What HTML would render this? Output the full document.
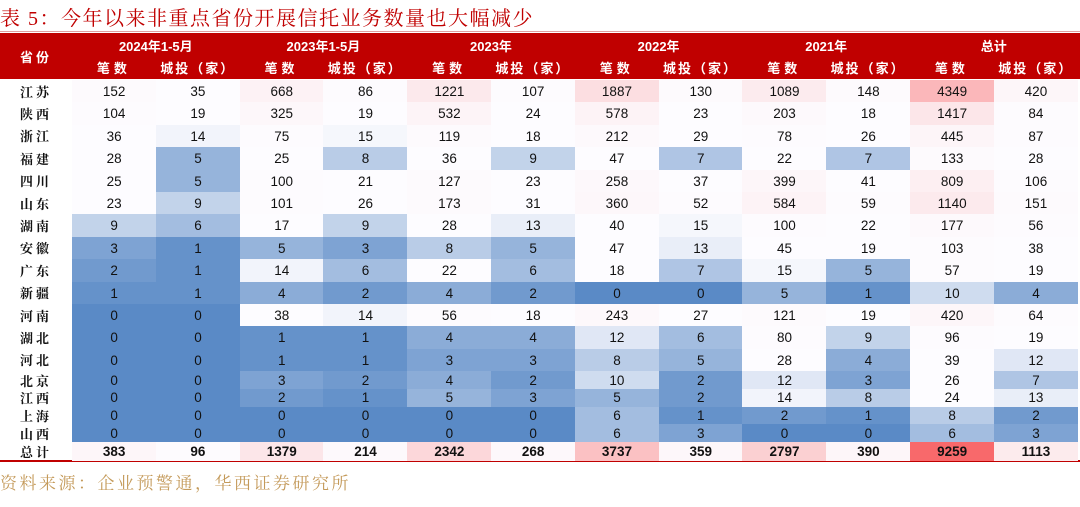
<!DOCTYPE html>
<html><head><meta charset="utf-8">
<style>
body{margin:0;width:1080px;height:507px;background:#fff;position:relative;overflow:hidden;font-family:"Liberation Sans","Noto Sans CJK SC",sans-serif}
.a{position:absolute;display:flex;align-items:center;justify-content:center;box-sizing:border-box}
.t{position:absolute;left:0;top:2px;font-family:"Liberation Serif","Noto Serif CJK SC",serif;font-size:20px;color:#c00000;letter-spacing:1.5px;white-space:nowrap}
.h{color:#fff;font-weight:bold;font-size:13px;font-family:"Liberation Sans","Noto Sans CJK SC",sans-serif}
.p{font-family:"Liberation Serif","Noto Serif CJK SC",serif;font-weight:bold;font-size:13px;color:#111;letter-spacing:3px}
.n{font-size:13.5px;color:#111}
.src{position:absolute;left:0;top:469px;font-family:"Liberation Serif","Noto Serif CJK SC",serif;font-size:17px;color:#c49a5a;letter-spacing:2.5px;white-space:nowrap}
</style></head><body>
<div class="t">表 5：今年以来非重点省份开展信托业务数量也大幅减少</div>
<div style="position:absolute;left:0;top:31px;width:1080px;height:1px;background:#e0a0a0"></div>
<div style="position:absolute;left:0;top:33px;width:1080px;height:46px;background:#c00000"></div>
<div style="position:absolute;left:0;top:460px;width:1080px;height:2px;background:#c00000"></div>
<div id="g"></div>
<div class="src">资料来源：企业预警通，华西证券研究所</div>
<script>
var rows=[
["江苏",152,35,668,86,1221,107,1887,130,1089,148,4349,420],
["陕西",104,19,325,19,532,24,578,23,203,18,1417,84],
["浙江",36,14,75,15,119,18,212,29,78,26,445,87],
["福建",28,5,25,8,36,9,47,7,22,7,133,28],
["四川",25,5,100,21,127,23,258,37,399,41,809,106],
["山东",23,9,101,26,173,31,360,52,584,59,1140,151],
["湖南",9,6,17,9,28,13,40,15,100,22,177,56],
["安徽",3,1,5,3,8,5,47,13,45,19,103,38],
["广东",2,1,14,6,22,6,18,7,15,5,57,19],
["新疆",1,1,4,2,4,2,0,0,5,1,10,4],
["河南",0,0,38,14,56,18,243,27,121,19,420,64],
["湖北",0,0,1,1,4,4,12,6,80,9,96,19],
["河北",0,0,1,1,3,3,8,5,28,4,39,12],
["北京",0,0,3,2,4,2,10,2,12,3,26,7],
["江西",0,0,2,1,5,3,5,2,14,8,24,13],
["上海",0,0,0,0,0,0,6,1,2,1,8,2],
["山西",0,0,0,0,0,0,6,3,0,0,6,3],
["总计",383,96,1379,214,2342,268,3737,359,2797,390,9259,1113]];
var bk=[[0,1],[1,.93],[2,.86],[3,.78],[4,.7],[5,.63],[6,.55],[7,.48],[8,.42],[9,.36],[10,.28],[12,.18],[13,.12],[14,.07],[17,0]];
function col(v){
 var B=[90,138,198],R=[248,105,107],W=[253,252,255],f,c;
 if(v<=17){for(var i=0;i<bk.length-1;i++){if(v>=bk[i][0]&&v<=bk[i+1][0]){var k=(v-bk[i][0])/(bk[i+1][0]-bk[i][0]);f=bk[i][1]+k*(bk[i+1][1]-bk[i][1]);break;}}
  c=B;}else{f=(v-17)/(9259-17);c=R;}
 return "rgb("+[0,1,2].map(function(j){return Math.round(W[j]+(c[j]-W[j])*f)}).join(",")+")";
}
var h="",x0=72,cw=83.8;
h+='<div class="a h" style="left:0;top:33px;width:72px;height:46px;letter-spacing:3px">省份</div>';
var yrs=["2024年1-5月","2023年1-5月","2023年","2022年","2021年","总计"];
for(var i=0;i<6;i++){h+='<div class="a h" style="left:'+(x0+i*2*cw)+'px;top:34px;width:'+(2*cw)+'px;height:22px">'+yrs[i]+'</div>';
 h+='<div class="a h" style="left:'+(x0+i*2*cw)+'px;top:56px;width:'+cw+'px;height:23px;letter-spacing:4px">笔数</div>';
 h+='<div class="a h" style="left:'+(x0+(i*2+1)*cw)+'px;top:56px;width:'+cw+'px;height:23px;letter-spacing:2px">城投（家）</div>';}
var ys=[];for(var r=0;r<13;r++)ys.push([80+r*22.4,22.4]);
for(var r=0;r<4;r++)ys.push([371.2+r*17.7,17.7]);ys.push([442,18]);
for(var r=0;r<rows.length;r++){var y=ys[r][0],hh=ys[r][1],tot=r==17;
 h+='<div class="a p" style="left:0;top:'+y+'px;width:72px;height:'+hh+'px">'+rows[r][0]+'</div>';
 for(var c=1;c<13;c++){h+='<div class="a n" style="left:'+(x0+(c-1)*cw)+'px;top:'+y+'px;width:'+(cw+0.5)+'px;height:'+(hh+0.5)+'px;background:'+col(rows[r][c])+(tot?';font-weight:bold':'')+'">'+rows[r][c]+'</div>';}}
document.getElementById("g").innerHTML=h;
</script>
</body></html>
